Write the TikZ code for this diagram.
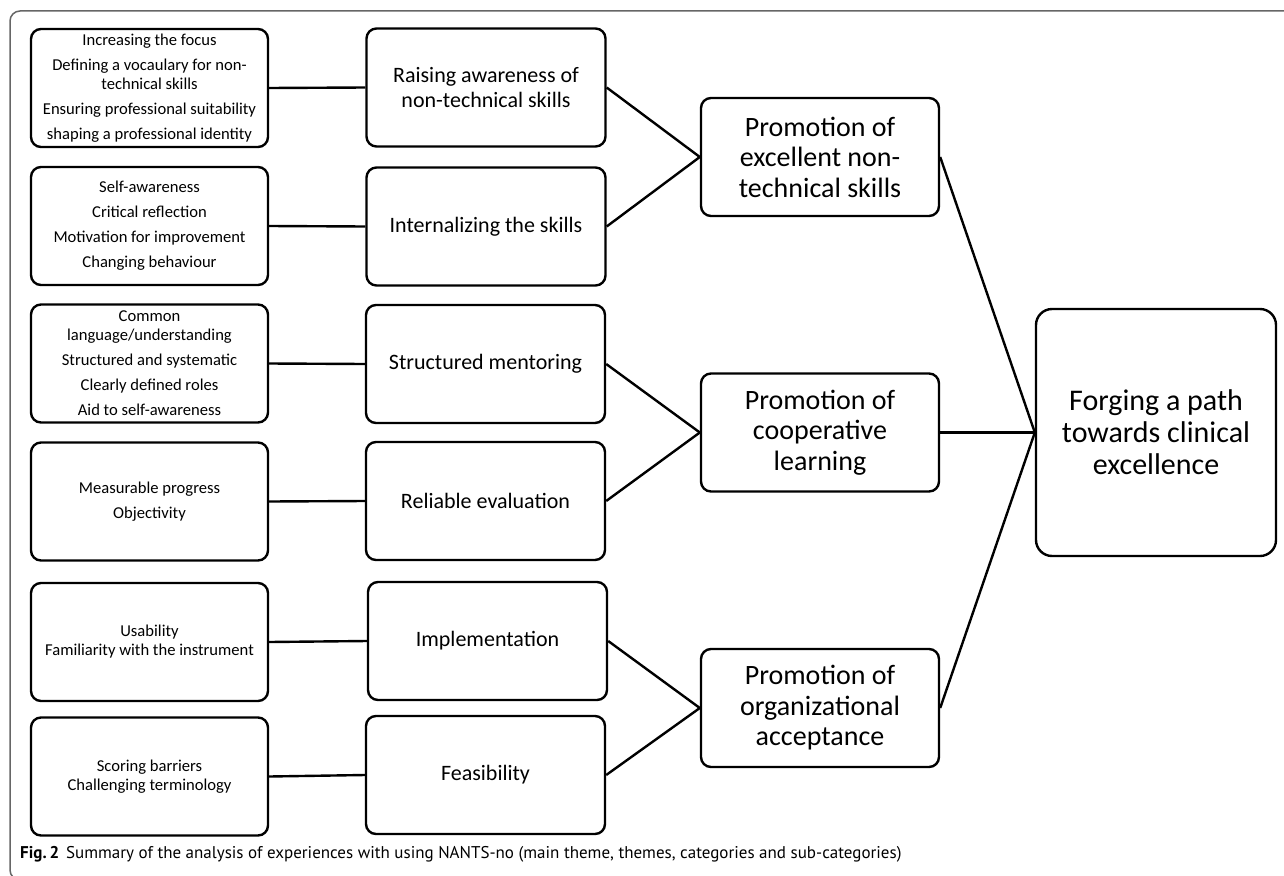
\documentclass[tikz,border=0pt]{standalone}
\usepackage{fontspec}
\setmainfont{Carlito}
\newfontfamily\capfont{PT Sans}
\usetikzlibrary{positioning}

\tikzset{
  box/.style={draw, line width=2.4pt, rounded corners=10pt, align=center, inner sep=2pt},
  subbox/.style={box, minimum width=237pt, minimum height=118pt, font=\fontsize{16.6}{19}\selectfont},
  catbox/.style={box, minimum width=239pt, minimum height=118pt, font=\fontsize{22}{25}\selectfont},
  themebox/.style={box, minimum width=238pt, minimum height=118pt, font=\fontsize{28}{30.5}\selectfont},
  mainbox/.style={box, rounded corners=16pt, minimum width=240pt, minimum height=247pt, font=\fontsize{30}{32}\selectfont},
  link/.style={line width=2.4pt}
}

\begin{document}
\begin{tikzpicture}[x=1pt, y=-1pt]
  \useasboundingbox (0,0) rectangle (1284,875);
  % frame
  \draw[gray!80!black, line width=1.5pt, rounded corners=10pt] (1290,11) -- (10,11) -- (10,880) -- (40,880);

  % sub-categories
  \node[subbox] (sub1) at (149.5,88) {Increasing the focus\\[6pt]Defining a vocaulary for non-\\technical skills\\[6pt]Ensuring professional suitability\\[6pt]shaping a professional identity};
  \node[subbox] (sub2) at (149.5,226) {Self-awareness\\[6pt]Critical reflection\\[6pt]Motivation for improvement\\[6pt]Changing behaviour};
  \node[subbox] (sub3) at (149.5,363.5) {Common\\language/understanding\\[6pt]Structured and systematic\\[6pt]Clearly defined roles\\[6pt]Aid to self-awareness};
  \node[subbox] (sub4) at (149.5,501.5) {Measurable progress\\[6pt]Objectivity};
  \node[subbox] (sub5) at (149.5,642) {Usability\\Familiarity with the instrument};
  \node[subbox] (sub6) at (149.5,776.5) {Scoring barriers\\Challenging terminology};

  % categories
  \node[catbox] (raise) at (486,87.5) {Raising awareness of\\non-technical skills};
  \node[catbox] (intern) at (486,226.5) {Internalizing the skills};
  \node[catbox] (mentor) at (485.5,364) {Structured mentoring};
  \node[catbox] (evalu) at (485.5,501) {Reliable evaluation};
  \node[catbox] (implem) at (487.5,641) {Implementation};
  \node[catbox] (feasib) at (485.5,775) {Feasibility};

  % themes
  \node[themebox] (excel) at (820,157) {Promotion of\\excellent non-\\technical skills};
  \node[themebox] (coop) at (820,432.5) {Promotion of\\cooperative\\learning};
  \node[themebox] (orga) at (820,708) {Promotion of\\organizational\\acceptance};

  % main theme
  \node[mainbox] (main) at (1156,432.5) {Forging a path\\towards clinical\\excellence};

  \foreach \a/\b in {sub1/raise, sub2/intern, sub3/mentor, sub4/evalu, sub5/implem, sub6/feasib,
                     raise/excel, intern/excel, mentor/coop, evalu/coop, implem/orga, feasib/orga,
                     excel/main, coop/main, orga/main}
    \draw[link] (\a.east) -- (\b.west);

  \node[anchor=base west, inner sep=0pt, font=\capfont\fontsize{17}{20}\selectfont] (caption) at (20,858)
    {\textbf{Fig.\,2}\hspace{7pt}Summary of the analysis of experiences with using NANTS-no (main theme, themes, categories and sub-categories)};
\end{tikzpicture}
\end{document}
